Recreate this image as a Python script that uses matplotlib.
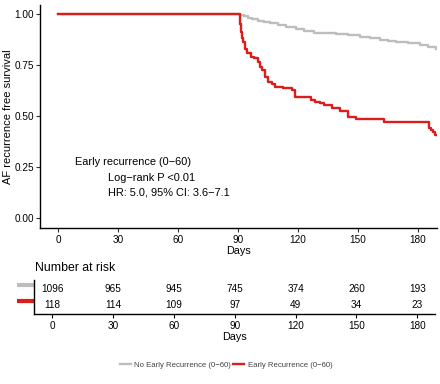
import numpy as np
import matplotlib
matplotlib.use('Agg')
import matplotlib.pyplot as plt

plt.rcParams['font.family'] = ['Liberation Sans', 'DejaVu Sans']

# Kaplan-Meier curves (days, survival)
no_early_t = [0, 91, 93, 95, 97, 100, 103, 106, 110, 114, 119, 123, 128, 134, 139,
              145, 151, 156, 161, 165, 169, 175, 181, 185, 189]
no_early_s = [1.0, 0.995, 0.988, 0.981, 0.974, 0.968, 0.961, 0.954, 0.945, 0.936,
              0.926, 0.918, 0.908, 0.906, 0.904, 0.897, 0.889, 0.880, 0.873, 0.868,
              0.864, 0.856, 0.848, 0.838, 0.827]

early_t = [0, 91, 91.5, 92, 92.7, 93.5, 94.3, 96.5, 98, 100, 101, 102, 103.5, 105,
           107, 108.5, 112.5, 117, 118.5, 126.5, 128.5, 131, 133, 137, 141, 145, 149,
           163, 185.5, 186.5, 187.5, 188.5, 189]
early_s = [1.0, 0.95, 0.91, 0.88, 0.864, 0.83, 0.807, 0.791, 0.783, 0.766, 0.74, 0.725,
           0.693, 0.668, 0.655, 0.644, 0.636, 0.627, 0.595, 0.578, 0.570, 0.562, 0.554,
           0.538, 0.525, 0.497, 0.484, 0.472, 0.44, 0.43, 0.423, 0.407, 0.407]

risk_days = [0, 30, 60, 90, 120, 150, 180]
risk_no_early = [1096, 965, 945, 745, 374, 260, 193]
risk_early = [118, 114, 109, 97, 49, 34, 23]

labels = ['No Early Recurrence (0\u221260)', 'Early Recurrence (0\u221260)']
gray = '#BDBDBD'
red = '#DD1C1C'

fig = plt.figure(figsize=(4.4, 3.84), dpi=100)

# main survival plot
ax = fig.add_axes([40/440, 1-228/384, 397/440, 223/384])
l1, = ax.plot(no_early_t, no_early_s, drawstyle='steps-post', color=gray, lw=1.7)
l2, = ax.plot(early_t, early_s, drawstyle='steps-post', color=red, lw=1.7)
ax.set_xlim(-9, 189.5)
ax.set_ylim(-0.049, 1.044)
ax.set_xticks(risk_days)
ax.set_yticks([0, 0.25, 0.5, 0.75, 1.0])
ax.set_yticklabels(['0.00', '0.25', '0.50', '0.75', '1.00'])
ax.set_xlabel('Days', fontsize=7.8, labelpad=1)
ax.set_ylabel('AF recurrence free survival', fontsize=8)
ax.yaxis.set_label_coords(-0.068, 0.5)
for s in ['top', 'right']:
    ax.spines[s].set_visible(False)
for s in ['left', 'bottom']:
    ax.spines[s].set_linewidth(1.0)
ax.tick_params(labelsize=7.2, length=3, width=0.8, color='#333333', pad=2)
ax.tick_params(axis='y', pad=1.5)

ax.text(8.5, 0.275, 'Early recurrence (0\u221260)', fontsize=7.9, va='center')
ax.text(25, 0.196, 'Log\u2212rank P <0.01', fontsize=7.9, va='center')
ax.text(25, 0.123, 'HR: 5.0, 95% CI: 3.6\u22127.1', fontsize=7.9, va='center')

# risk table
tb = fig.add_axes([34/440, 1-314/384, 401/440, 34/384])
tb.set_xlim(-8.9, 188.7)
tb.set_ylim(-0.57, 1.59)
for d, a, b in zip(risk_days, risk_no_early, risk_early):
    tb.text(d, 1, str(a), ha='center', va='center', fontsize=7.2)
    tb.text(d, 0, str(b), ha='center', va='center', fontsize=7.2)
tb.set_xticks(risk_days)
tb.set_yticks([1.3, 0.28])
tb.set_yticklabels(['', ''])
tb.tick_params(axis='y', length=12, width=3)
tb.tick_params(axis='x', labelsize=7.2, length=3, width=0.8, pad=2)
for tick, c in zip(tb.yaxis.get_major_ticks(), [gray, red]):
    tick.tick1line.set_color(c)
    tick.tick1line.set_markeredgecolor(c)
tb.set_xlabel('Days', fontsize=7.8, labelpad=1)
for s in ['top', 'right']:
    tb.spines[s].set_visible(False)
for s in ['left', 'bottom']:
    tb.spines[s].set_linewidth(1.0)

fig.text(35/440, 1-268/384, 'Number at risk', fontsize=8.8, va='center', ha='left')

fig.legend([l1, l2], labels, loc='center', bbox_to_anchor=(226/440, 1-365/384),
           ncol=2, frameon=False, fontsize=5.6, handlelength=1.4, columnspacing=0.2,
           handletextpad=0.5, labelcolor='#444444')

fig.savefig('out.png', dpi=100)
